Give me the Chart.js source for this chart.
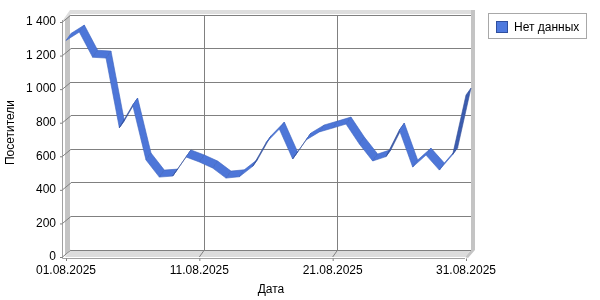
<!DOCTYPE html>
<html><head><meta charset="utf-8">
<script src="https://cdn.jsdelivr.net/npm/chart.js@4/dist/chart.umd.min.js"></script>
<style>html,body{margin:0;padding:0;background:#fff}#wrap{width:600px;height:300px}</style>
</head><body><div id="wrap"><canvas id="c" width="600" height="300"></canvas></div>
<script>
const dates = ['01.08.2025','02.08.2025','03.08.2025','04.08.2025','05.08.2025','06.08.2025','07.08.2025','08.08.2025','09.08.2025','10.08.2025',
  '11.08.2025','12.08.2025','13.08.2025','14.08.2025','15.08.2025','16.08.2025','17.08.2025','18.08.2025','19.08.2025','20.08.2025',
  '21.08.2025','22.08.2025','23.08.2025','24.08.2025','25.08.2025','26.08.2025','27.08.2025','28.08.2025','29.08.2025','30.08.2025','31.08.2025'];
const visitors = [1290, 1340, 1190, 1185, 770, 905, 578, 476, 482, 596, 566, 530, 470, 478, 540, 680, 762, 584, 697, 745, 768, 792, 673, 572, 598, 756, 536, 607, 518, 610, 965];
const xTickDates = ['01.08.2025','11.08.2025','21.08.2025','31.08.2025'];
const yTickValues = [0, 200, 400, 600, 800, 1000, 1200, 1400];
const yTickLabels = ['0', '200', '400', '600', '800', '1 000', '1 200', '1 400'];
const seriesName = 'Нет данных';
const xTitle = 'Дата';
const yTitle = 'Посетители';

const FONT = "'Liberation Sans', Arial, sans-serif";
const OFF = {x: -5, y: 7}; // front plane offset from back wall

const wallsPlugin = {
  id: 'walls',
  beforeDraw(chart) {
    const ctx = chart.ctx, a = chart.chartArea;
    const L = a.left, T = a.top, R = a.right, B = a.bottom;
    ctx.save();
    ctx.fillStyle = '#dedede';
    ctx.beginPath();
    ctx.moveTo(L - 8, T + 5); ctx.lineTo(L - 1, T - 5); ctx.lineTo(R + 4, T - 5);
    ctx.lineTo(R + 4, T - 1); ctx.lineTo(L - 1, T - 1); ctx.lineTo(L - 6, T + 5);
    ctx.closePath(); ctx.fill();
    ctx.fillStyle = '#c4c4c4';
    ctx.beginPath();
    ctx.moveTo(R, T - 5); ctx.lineTo(R + 4, T - 5); ctx.lineTo(R + 4, B);
    ctx.lineTo(R - 3, B + 8); ctx.lineTo(R - 6, B + 7); ctx.lineTo(R, B);
    ctx.closePath(); ctx.fill();
    ctx.beginPath();
    ctx.moveTo(L - 6, T + 5); ctx.lineTo(L - 1, T - 1); ctx.lineTo(L - 1, B);
    ctx.lineTo(L - 6, B + 6);
    ctx.closePath(); ctx.fill();
    ctx.fillStyle = '#dcdcdc';
    ctx.beginPath();
    ctx.moveTo(L - 6, B + 7); ctx.lineTo(L, B); ctx.lineTo(R, B); ctx.lineTo(R - 6, B + 7);
    ctx.closePath(); ctx.fill();
    ctx.strokeStyle = '#a0a0a0'; ctx.lineWidth = 1;
    ctx.beginPath();
    ctx.moveTo(L - 8.5, T + 5); ctx.lineTo(L - 8.5, B + 8.5); ctx.lineTo(R - 6, B + 8.5);
    ctx.stroke();
    const ys = chart.scales.y;
    ctx.strokeStyle = '#808080';
    yTickValues.forEach(v => {
      const y = ys.getPixelForValue(v);
      ctx.beginPath();
      ctx.moveTo(L - 8.5, y + OFF.y); ctx.lineTo(L, y);
      ctx.moveTo(L - 11, y + OFF.y + 0.5); ctx.lineTo(L - 8.5, y + OFF.y + 0.5);
      ctx.stroke();
    });
    const xs = chart.scales.x;
    xTickDates.forEach(d => {
      const x = xs.getPixelForValue(dates.indexOf(d));
      ctx.beginPath();
      if (d !== xTickDates[0] && d !== xTickDates[xTickDates.length - 1]) {
        ctx.moveTo(x + OFF.x, B + OFF.y); ctx.lineTo(x, B);
      }
      ctx.moveTo(x + OFF.x + 0.5, B + 8.5); ctx.lineTo(x + OFF.x + 0.5, B + 11);
      ctx.stroke();
    });
    ctx.restore();
  }
};

const ribbonPlugin = {
  id: 'ribbon',
  afterDatasetsDraw(chart) {
    const ctx = chart.ctx;
    const pts = chart.getDatasetMeta(0).data;
    ctx.save();
    for (let i = 0; i < pts.length - 1; i++) {
      const a = pts[i], b = pts[i + 1];
      const cross = (b.x - a.x) * OFF.y - (b.y - a.y) * OFF.x;
      ctx.beginPath();
      ctx.moveTo(a.x, a.y); ctx.lineTo(b.x, b.y);
      ctx.lineTo(b.x + OFF.x, b.y + OFF.y); ctx.lineTo(a.x + OFF.x, a.y + OFF.y);
      ctx.closePath();
      ctx.fillStyle = cross < 0 ? '#3b5cae' : '#4d76d8';
      ctx.fill();
      ctx.strokeStyle = cross < 0 ? '#324f98' : '#3d63bf';
      ctx.lineWidth = 0.6;
      ctx.stroke();
    }
    ctx.restore();
  }
};

const legendPlugin = {
  id: 'customLegend',
  afterDraw(chart) {
    const ctx = chart.ctx;
    ctx.save();
    ctx.fillStyle = '#fff';
    ctx.fillRect(488, 13, 99, 26);
    ctx.strokeStyle = '#a8a8a8'; ctx.lineWidth = 1;
    ctx.strokeRect(488.5, 13.5, 98, 25);
    ctx.fillStyle = '#4e79de';
    ctx.fillRect(496, 21, 12, 12);
    ctx.strokeStyle = '#2f4f9f';
    ctx.strokeRect(496.5, 21.5, 11, 11);
    ctx.fillStyle = '#000';
    ctx.font = '12px ' + FONT;
    ctx.textBaseline = 'middle';
    ctx.textAlign = 'left';
    ctx.fillText(seriesName, 514, 27.5);
    ctx.restore();
  }
};

new Chart(document.getElementById('c'), {
  type: 'line',
  data: {
    labels: dates,
    datasets: [{
      label: seriesName,
      data: visitors,
      borderColor: 'rgba(0,0,0,0)',
      backgroundColor: '#4e79de',
      borderWidth: 0,
      pointRadius: 0,
      pointHoverRadius: 0,
      fill: false
    }]
  },
  options: {
    responsive: false,
    animation: false,
    devicePixelRatio: 1,
    layout: {padding: {top: 15, right: 129, left: 0, bottom: 0}},
    plugins: {legend: {display: false}, tooltip: {enabled: false}},
    scales: {
      x: {
        type: 'category',
        offset: false,
        border: {display: false},
        grid: {
          drawTicks: false,
          color: ctx => {
            const l = dates[ctx.index];
            return (xTickDates.includes(l) && ctx.index > 0 && ctx.index < dates.length - 1) ? '#808080' : 'rgba(0,0,0,0)';
          }
        },
        ticks: {
          autoSkip: false, maxRotation: 0, minRotation: 0,
          padding: 13, labelOffset: OFF.x,
          color: '#000', font: {family: FONT, size: 12},
          callback: (v, i) => xTickDates.includes(dates[i]) ? dates[i] : ''
        },
        title: {display: true, text: xTitle, color: '#000', font: {family: FONT, size: 12}, padding: {top: 0, bottom: 3}},
        afterFit: s => { s.height = 50; s.paddingLeft = 0; s.paddingRight = 0; }
      },
      y: {
        min: 0, max: 1400,
        border: {display: false},
        grid: {drawTicks: false, color: '#808080'},
        afterBuildTicks: s => { s.ticks = yTickValues.map(v => ({value: v})); },
        ticks: {
          padding: 15, labelOffset: OFF.y,
          color: '#000', font: {family: FONT, size: 12},
          callback: v => yTickLabels[yTickValues.indexOf(v)]
        },
        title: {display: true, text: yTitle, color: '#000', font: {family: FONT, size: 12}, padding: {top: 3, bottom: 0}},
        afterFit: s => { s.width = 71; s.paddingTop = 0; s.paddingBottom = 0; }
      }
    }
  },
  plugins: [wallsPlugin, ribbonPlugin, legendPlugin]
});
</script>
</body></html>
